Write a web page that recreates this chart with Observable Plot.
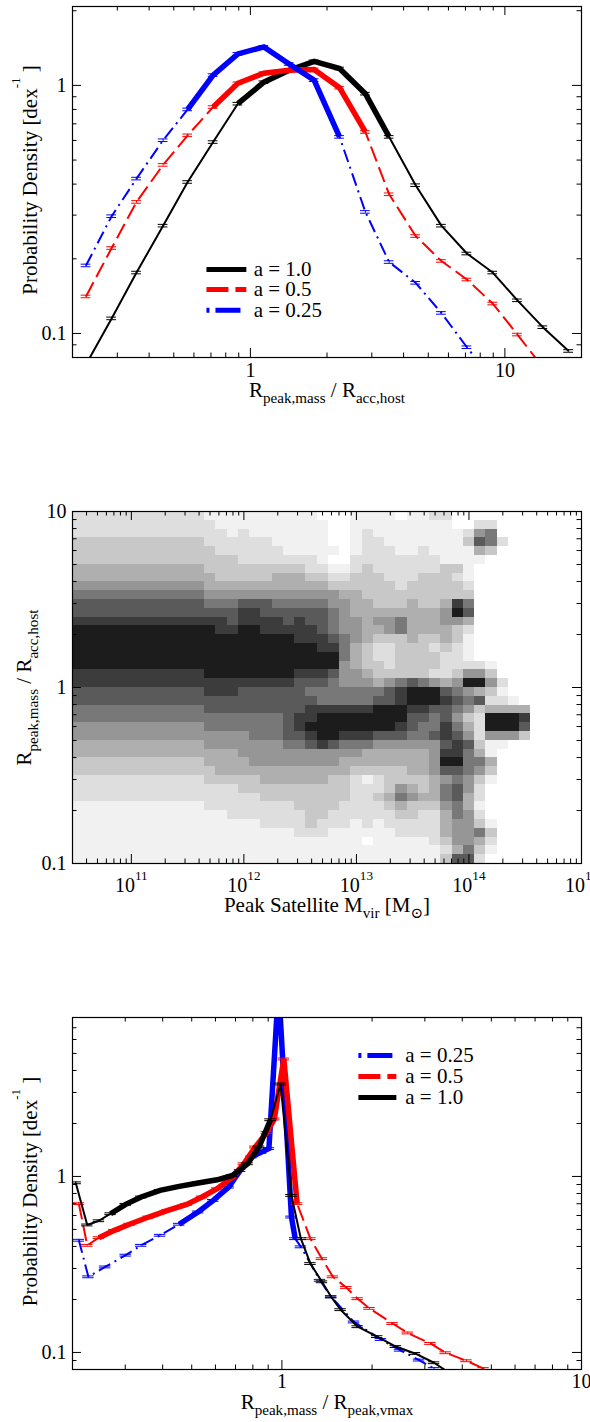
<!DOCTYPE html>
<html><head><meta charset="utf-8">
<script src="https://cdn.jsdelivr.net/npm/d3@7"></script>
<script src="https://cdn.jsdelivr.net/npm/@observablehq/plot@0.6"></script>
<style>
body{margin:0;background:#fff;}
#wrap{position:relative;width:590px;height:1422px;overflow:hidden;background:#fff;}
.panel{position:absolute;left:0;}
#wrap svg, #wrap svg text, #wrap svg tspan{font-family:"Liberation Serif","DejaVu Serif",serif !important;}
</style></head><body><div id="wrap"></div>
<script>
// ---------- Panel 1 data: R_peak,mass / R_acc,host distribution ----------
const p1X     = [0.226, 0.285, 0.357, 0.454, 0.567, 0.714, 0.893, 1.13, 1.42, 1.78, 2.24, 2.83, 3.51, 4.46, 5.63, 7.09, 8.96, 11.2, 14.1, 17.8];
const p1Black = [0.075, 0.115, 0.176, 0.272, 0.408, 0.591, 0.844, 1.03, 1.15, 1.25, 1.17, 0.926, 0.62, 0.396, 0.272, 0.21, 0.176, 0.136, 0.106, 0.085];
const p1Red   = [0.141, 0.221, 0.339, 0.478, 0.629, 0.818, 1.02, 1.12, 1.15, 1.16, 0.979, 0.649, 0.364, 0.247, 0.196, 0.165, 0.132, 0.099, 0.073];
const p1Blue  = [0.188, 0.297, 0.421, 0.601, 0.80, 1.10, 1.34, 1.43, 1.22, 1.05, 0.62, 0.309, 0.194, 0.16, 0.121, 0.088, 0.065];

// ---------- Panel 2 data: 2D histogram (grey level 0-9), rows top(log y = 1) to bottom(log y = -1) ----------
const p2MassBins = d3.range(45).map(i => +(10.5 + 0.1 * i).toFixed(2));   // log10 Mvir bin centres
const p2RatioBins = d3.range(40).map(i => +(0.975 - 0.05 * i).toFixed(3)); // log10 ratio bin centres
const p2Levels = [
"222222222222111111111100011110112200000000000",
"222222222222211111111110011111111100220000000",
"222222222222221211111110012111111112560000000",
"333333333333222222111110012211111113762000000",
"333333333333322222211111012221121111430000000",
"333333333333333222222210022222222111100000000",
"444444444444333333333221123222222331000000000",
"444444444444433333444332233322233321000000000",
"555555555555444444444443333332333332000000000",
"666666666666555555555555443333333333000000000",
"777777777777666777666665544333433486000000000",
"777777777777777887777776544444444597000000000",
"888888888888887888878776554556444554000000000",
"999999999999988998888876554456444432000000000",
"999999999999999999998887654333433431000000000",
"999999999999999999999988643223332321000000000",
"999999999999999999999999643223333221000000000",
"999999999999999999999999543323333222210000000",
"888888888888999999998887554333332235530000000",
"888888888888888888887776555456765459952000000",
"777777777777888777777666666678999765431000000",
"777777777777777777777766666778999876722100000",
"666666666666777777777888888999887765344440000",
"666666666666666666678899999999776753299980000",
"555555555555666666678999999998766864299970000",
"555555555555555566677899888777667875255530000",
"444444444444555555566787666555555787311000000",
"444444444444444555555555554444445886410000000",
"333333333333444455555555444444445996640000000",
"333333333333344444444444433333445776530000000",
"222222222222333334444443321233334565310000000",
"222222222222222333333333322235434675200000000",
"222222222222222223333333322346544674200000000",
"111111111111222222223333222234333564100000000",
"111111111111112222222332222223322465200000000",
"111111111111111112222322212122222455310000000",
"111111111111111111112221111112222455630000000",
"111111111111111111111111110111112355420000000",
"111111111111111111111111111111111246310000000",
"111111111111111111111111111111111377200000000"
];
const p2Palette = ["#ffffff","#f1f1f1","#dedede","#c8c8c8","#afafaf","#969696","#787878","#5a5a5a","#3c3c3c","#1c1c1c"];

// ---------- Panel 3 data: R_peak,mass / R_peak,vmax distribution ----------
const p3BlackX = [0.205, 0.224, 0.245, 0.268, 0.301, 0.339, 0.392, 0.454, 0.525, 0.608, 0.684, 0.768, 0.839, 0.916, 0.99, 1.076, 1.157, 1.245, 1.36, 1.46, 1.57, 1.79, 2.08, 2.4, 2.78, 3.22, 3.6];
const p3BlackY = [0.92, 0.53, 0.56, 0.614, 0.694, 0.764, 0.833, 0.878, 0.917, 0.957, 1.013, 1.18, 1.47, 2.1, 3.35, 0.78, 0.443, 0.32, 0.252, 0.207, 0.175, 0.14, 0.123, 0.108, 0.0987, 0.0874, 0.077];
const p3RedX = [0.21, 0.224, 0.245, 0.276, 0.31, 0.359, 0.416, 0.481, 0.541, 0.608, 0.684, 0.746, 0.815, 0.89, 0.943, 1.015, 1.124, 1.245, 1.36, 1.48, 1.64, 1.79, 1.96, 2.34, 2.63, 3.13, 3.52, 4.13, 4.71, 5.2];
const p3RedY = [0.70, 0.406, 0.449, 0.494, 0.535, 0.588, 0.642, 0.694, 0.764, 0.851, 0.99, 1.18, 1.47, 1.78, 2.12, 4.65, 0.70, 0.443, 0.341, 0.269, 0.234, 0.202, 0.178, 0.146, 0.129, 0.1125, 0.0996, 0.0897, 0.081, 0.074];
const p3BlueX = [0.21, 0.226, 0.257, 0.301, 0.339, 0.392, 0.454, 0.525, 0.59, 0.664, 0.725, 0.791, 0.852, 0.905, 0.975, 1.076, 1.108, 1.157, 1.34, 1.46, 1.74, 2.14, 2.48, 2.87, 3.22, 3.5];
const p3BlueY = [0.434, 0.269, 0.306, 0.357, 0.406, 0.463, 0.535, 0.628, 0.731, 0.87, 1.08, 1.29, 1.37, 1.44, 12, 0.588, 0.443, 0.398, 0.257, 0.207, 0.149, 0.1185, 0.103, 0.0905, 0.081, 0.075];

const labels = ["a = 1.0", "a = 0.5", "a = 0.25"];

// ---------- styling ----------
const FONT = "Liberation Serif";
const ML = 72, MR = 9, W = 590;
const TICKFS = 20, TITLEFS = 21, LEGFS = 21;
const sty = {
  black: {stroke: "#000", dash: null, legendDash: null},
  red:   {stroke: "#ff0000", dash: "16,6", legendDash: "22,7"},
  blue:  {stroke: "#0000ff", dash: "13,5,2,5", legendDash: "3,6,25,6"}
};

const pts = (xs, ys) => ys.map((y, i) => ({x: xs[i], y}));

function seriesMarks(data, s, thickFrom, thickTo, thickW) {
  const err = 1.012, cap = 1.045;
  return [
    Plot.line(data, {x: "x", y: "y", stroke: s.stroke, strokeWidth: 2, strokeDasharray: s.dash, clip: true, strokeLinejoin: "miter", strokeLinecap: "butt"}),
    Plot.line(data.slice(thickFrom, thickTo + 1), {x: "x", y: "y", stroke: s.stroke, strokeWidth: thickW, clip: true, strokeLinejoin: "miter", strokeMiterlimit: 8, strokeLinecap: "butt"}),
    Plot.ruleY(data, {y: d => d.y * err, x1: d => d.x / cap, x2: d => d.x * cap, stroke: s.stroke, strokeWidth: 1, clip: true}),
    Plot.ruleY(data, {y: d => d.y / err, x1: d => d.x / cap, x2: d => d.x * cap, stroke: s.stroke, strokeWidth: 1, clip: true}),
    Plot.ruleX(data, {x: "x", y1: d => d.y / err, y2: d => d.y * err, stroke: s.stroke, strokeWidth: 1, clip: true})
  ];
}

function legendMarks(items, x1, x2, xt) {
  const out = [];
  for (const it of items) {
    out.push(Plot.link([it], {x1: () => x1, x2: () => x2, y1: d => d.y, y2: d => d.y, stroke: it.s.stroke, strokeWidth: 5, strokeDasharray: it.s.legendDash, strokeLinecap: "butt"}));
  }
  out.push(Plot.text(items, {x: () => xt, y: d => d.y, text: d => d.label, textAnchor: "start", lineAnchor: "middle", fontSize: LEGFS, fontFamily: FONT}));
  return out;
}

function panel(cfg) {
  const {xDomain, yDomain, mt, innerH, mb, marks, xFmt, yFmt, xTitle, yTitle, xLabelDy, xTitleDy, yTitleDx, yTitleDy, extra} = cfg;
  const xt = d3.scaleLog().domain(xDomain).ticks();
  const yt = d3.scaleLog().domain(yDomain).ticks();
  const isMaj = v => Math.abs(Math.log10(v) - Math.round(Math.log10(v))) < 1e-9;
  const innerW = W - ML - MR;
  const xMaj = xt.filter(isMaj), xMin = xt.filter(v => !isMaj(v));
  const yMaj = yt.filter(isMaj), yMin = yt.filter(v => !isMaj(v));
  const big = 9, small = 4.5;
  const ticks = [
    Plot.tickX(xMin, {x: d => d, insetTop: innerH - small, stroke: "#000", strokeWidth: 1}),
    Plot.tickX(xMin, {x: d => d, insetBottom: innerH - small, stroke: "#000", strokeWidth: 1}),
    Plot.tickX(xMaj, {x: d => d, insetTop: innerH - big, stroke: "#000", strokeWidth: 1}),
    Plot.tickX(xMaj, {x: d => d, insetBottom: innerH - big, stroke: "#000", strokeWidth: 1}),
    Plot.tickY(yMin, {y: d => d, insetRight: innerW - small, stroke: "#000", strokeWidth: 1}),
    Plot.tickY(yMin, {y: d => d, insetLeft: innerW - small, stroke: "#000", strokeWidth: 1}),
    Plot.tickY(yMaj, {y: d => d, insetRight: innerW - big, stroke: "#000", strokeWidth: 1}),
    Plot.tickY(yMaj, {y: d => d, insetLeft: innerW - big, stroke: "#000", strokeWidth: 1})
  ];
  const texts = [
    Plot.text(xMaj, {x: d => d, frameAnchor: "bottom", dy: xLabelDy, text: xFmt, textAnchor: "middle", lineAnchor: "middle", fontSize: TICKFS, fontFamily: FONT}),
    Plot.text(yMaj, {y: d => d, frameAnchor: "left", dx: -6, textAnchor: "end", lineAnchor: "middle", text: yFmt, fontSize: TICKFS, fontFamily: FONT}),
    Plot.text([xTitle], {frameAnchor: "bottom", dy: xTitleDy, text: d => d, textAnchor: "middle", lineAnchor: "middle", fontSize: TITLEFS, fontFamily: FONT}),
    Plot.text([yTitle], {frameAnchor: "left", dx: yTitleDx, dy: yTitleDy || 0, rotate: -90, text: d => d, textAnchor: "middle", lineAnchor: "middle", fontSize: TITLEFS, fontFamily: FONT})
  ];
  return Plot.plot({
    width: W, height: mt + innerH + mb,
    marginTop: mt, marginLeft: ML, marginRight: MR, marginBottom: mb,
    x: {type: "log", domain: xDomain, axis: null},
    y: {type: "log", domain: yDomain, axis: null},
    color: {type: "identity"},
    style: {fontFamily: FONT, background: "white"},
    marks: [...marks, ...(extra || []), ...ticks, Plot.frame({stroke: "#000", strokeWidth: 1.2}), ...texts]
  });
}

function richText(root) {
  root.querySelectorAll("text").forEach(t => {
    const s = t.textContent;
    if (!/[_^]\{/.test(s)) return;
    const fs = parseFloat(getComputedStyle(t).fontSize) || 20;
    const isTick = s.startsWith("10^");
    const supRaise = isTick ? 0.58 : 0.82, supSize = isTick ? 0.66 : 0.62;
    const parts = [];
    const re = /([_^])\{([^}]*)\}/g;
    let last = 0, m;
    while ((m = re.exec(s))) {
      if (m.index > last) parts.push({k: "n", s: s.slice(last, m.index)});
      parts.push({k: m[1] === "_" ? "sub" : "sup", s: m[2]});
      last = re.lastIndex;
    }
    if (last < s.length) parts.push({k: "n", s: s.slice(last)});
    while (t.firstChild) t.removeChild(t.firstChild);
    let cur = 0;
    for (const p of parts) {
      const ts = document.createElementNS("http://www.w3.org/2000/svg", "tspan");
      const off = p.k === "sub" ? 0.3 * fs : p.k === "sup" ? -supRaise * fs : 0;
      if (off !== cur) ts.setAttribute("dy", (off - cur).toFixed(2));
      cur = off;
      if (p.k === "sub") ts.setAttribute("font-size", (0.72 * fs).toFixed(2));
      if (p.k === "sup") ts.setAttribute("font-size", (supSize * fs).toFixed(2));
      ts.textContent = p.s;
      t.appendChild(ts);
    }
  });
}

const wrap = document.getElementById("wrap");
function place(svg, top) {
  const div = document.createElement("div");
  div.className = "panel";
  div.style.top = top + "px";
  div.appendChild(svg);
  wrap.appendChild(div);
  richText(svg);
}

// ---------- Panel 1 ----------
const d1k = pts(p1X, p1Black), d1r = pts(p1X, p1Red), d1b = pts(p1X, p1Blue);
const p1 = panel({
  xDomain: [0.2, 20], yDomain: [0.08, 2.08], mt: 6, innerH: 351, mb: 60,
  marks: [
    ...seriesMarks(d1k, sty.black, 6, 12, 5.5),
    ...seriesMarks(d1r, sty.red, 5, 11, 5.5),
    ...seriesMarks(d1b, sty.blue, 4, 10, 5.5)
  ],
  extra: legendMarks([
    {label: labels[0], y: 0.181, s: sty.black},
    {label: labels[1], y: 0.1504, s: sty.red},
    {label: labels[2], y: 0.124, s: sty.blue}
  ], 0.672, 0.964, 1.03),
  xFmt: d => String(d), yFmt: d => String(d),
  xTitle: "R_{peak,mass} / R_{acc,host}", yTitle: "Probability Density [dex^{-1} ]",
  xLabelDy: 13.5, xTitleDy: 32.5, yTitleDx: -42, yTitleDy: -2
});
place(p1, 0);

// ---------- Panel 2 ----------
const cells = [];
p2Levels.forEach((row, r) => {
  for (let c = 0; c < row.length; c++) {
    const lv = +row[c];
    if (lv === 0) continue;
    const lm = p2MassBins[c], lr = p2RatioBins[r];
    cells.push({x1: 10 ** (lm - 0.05), x2: 10 ** (lm + 0.05), y1: 10 ** (lr - 0.025), y2: 10 ** (lr + 0.025), fill: p2Palette[lv]});
  }
});
const p2 = panel({
  xDomain: [3e10, 1e15], yDomain: [0.1, 10], mt: 16, innerH: 352, mb: 74,
  marks: [Plot.rect(cells, {x1: "x1", x2: "x2", y1: "y1", y2: "y2", fill: "fill", clip: true, shapeRendering: "crispEdges"})],
  xFmt: d => "10^{" + Math.round(Math.log10(d)) + "}", yFmt: d => String(d),
  xTitle: "Peak Satellite M_{vir} [M_{⊙}]", yTitle: "R_{peak,mass} / R_{acc,host}",
  xLabelDy: 22, xTitleDy: 41.5, yTitleDx: -48
});
place(p2, 495);

// ---------- Panel 3 ----------
const d3k = pts(p3BlackX, p3BlackY), d3r = pts(p3RedX, p3RedY), d3b = pts(p3BlueX, p3BlueY);
const p3 = panel({
  xDomain: [0.2, 10], yDomain: [0.08, 8], mt: 6, innerH: 352, mb: 52,
  marks: [
    ...seriesMarks(d3b, sty.blue, 6, 16, 5.5),
    ...seriesMarks(d3r, sty.red, 2, 16, 5.5),
    ...seriesMarks(d3k, sty.black, 3, 13, 5.5)
  ],
  extra: legendMarks([
    {label: labels[2], y: 4.87, s: sty.blue},
    {label: labels[1], y: 3.70, s: sty.red},
    {label: labels[0], y: 2.81, s: sty.black}
  ], 1.80, 2.41, 2.58),
  xFmt: d => String(d), yFmt: d => String(d),
  xTitle: "R_{peak,mass} / R_{peak,vmax}", yTitle: "Probability Density [dex^{-1} ]",
  xLabelDy: 12.5, xTitleDy: 32.5, yTitleDx: -42, yTitleDy: -2
});
place(p3, 1011);
</script>
</body></html>
